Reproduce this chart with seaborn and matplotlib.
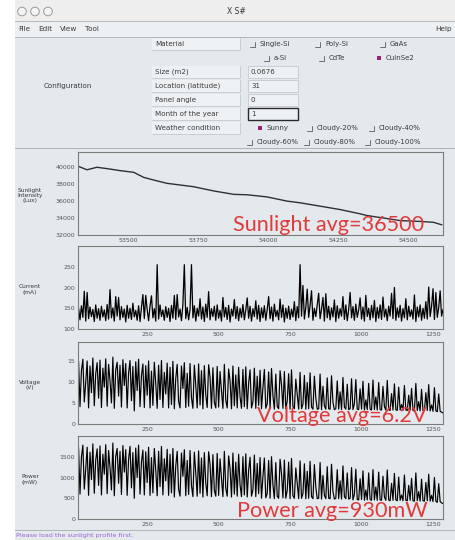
import numpy as np
import pandas as pd
import matplotlib
matplotlib.use("Agg")
import matplotlib.pyplot as plt
import seaborn as sns
from matplotlib.patches import Rectangle, Circle
from matplotlib.lines import Line2D

# ---------------------------------------------------------------- data
sun_x = [53321, 53351, 53387, 53430, 53470, 53518, 53554, 53600, 53637,
         53685, 53732, 53804, 53875, 53923, 53994, 54066, 54113, 54185,
         54256, 54327, 54351, 54411, 54470, 54542, 54589, 54619]
sun_y = [40100, 39700, 40000, 39800, 39600, 39400, 38800, 38400, 38100,
         37900, 37700, 37200, 36800, 36750, 36500, 36000, 35800, 35400,
         35000, 34500, 34300, 34000, 33700, 33600, 33500, 33200]

# sample index of the logged measurements
sample_t = list(range(10, 1290, 5))

current_ma = [
    150, 122, 156, 128, 191, 119, 188, 125, 153, 130, 147, 118, 158, 126, 149, 121,
    155, 129, 146, 120, 159, 124, 195, 127, 151, 119, 178, 131, 176, 122, 154, 128,
    148, 117, 157, 126, 150, 123, 162, 129, 145, 121, 156, 118, 152, 183, 125, 181,
    147, 120, 155, 180, 127, 149, 119, 255, 124, 158, 130, 146, 121, 154, 128, 150,
    118, 157, 126, 181, 123, 183, 129, 148, 120, 159, 255, 125, 152, 122, 147, 255,
    127, 156, 119, 150, 131, 173, 124, 153, 118, 160, 128, 190, 122, 149, 130, 155,
    121, 158, 126, 145, 119, 176, 129, 152, 123, 157, 117, 148, 131, 171, 125, 154,
    120, 150, 128, 159, 122, 146, 175, 126, 155, 119, 149, 130, 168, 124, 157, 118,
    151, 127, 156, 121, 147, 178, 125, 153, 119, 160, 130, 145, 122, 172, 128, 158,
    117, 150, 126, 155, 123, 148, 129, 166, 120, 154, 127, 255, 131, 205, 124, 152,
    196, 128, 157, 192, 121, 150, 130, 159, 186, 125, 148, 176, 119, 185, 127, 155,
    122, 151, 129, 170, 118, 156, 126, 149, 131, 178, 123, 158, 120, 147, 188, 127,
    154, 121, 160, 128, 146, 175, 124, 153, 119, 181, 130, 150, 122, 157, 127, 169,
    118, 152, 126, 158, 123, 177, 129, 148, 120, 155, 131, 186, 125, 200, 121, 151,
    128, 157, 119, 149, 127, 173, 122, 155, 130, 146, 124, 182, 118, 153, 129, 158,
    121, 150, 126, 166, 124, 201, 130, 155, 197, 123, 188, 128, 152, 192, 131, 147,
]

voltage_v = [
    14.8, 4.1, 12.6, 15.3, 5.2, 9.8, 14.9, 3.8, 13.7, 7.4, 15.6, 4.3, 11.9, 14.5, 6.1, 15.1,
    3.9, 13.2, 8.7, 15.4, 4.2, 14.1, 10.3, 5.0, 15.8, 3.7, 12.8, 14.6, 6.6, 13.9, 4.0, 15.2,
    9.1, 14.3, 3.8, 12.1, 15.0, 5.5, 13.6, 3.1, 14.7, 7.9, 15.3, 4.1, 11.4, 14.2, 3.9, 13.8,
    6.8, 14.9, 3.8, 12.5, 4.4, 14.6, 9.6, 3.7, 13.9, 5.8, 15.0, 3.9, 12.2, 7.1, 14.4, 3.8,
    13.4, 4.6, 14.8, 3.6, 10.8, 14.1, 5.3, 3.8, 13.7, 8.4, 14.5, 3.9, 12.0, 4.2, 14.3, 6.2,
    3.7, 13.9, 9.2, 3.8, 14.2, 4.5, 12.6, 3.6, 13.8, 6.9, 3.9, 14.0, 11.1, 3.7, 13.3, 5.1,
    3.8, 13.6, 4.0, 12.4, 7.8, 3.7, 14.1, 5.6, 3.8, 13.0, 10.2, 3.6, 13.7, 4.3, 11.6, 3.8,
    13.4, 6.4, 3.7, 12.9, 4.1, 13.5, 3.6, 9.7, 12.8, 3.8, 5.2, 13.2, 3.7, 11.3, 4.4, 12.7,
    3.6, 8.6, 12.9, 3.7, 4.8, 12.3, 3.6, 13.1, 6.7, 3.5, 11.8, 4.1, 3.6, 12.6, 9.3, 3.7,
    12.4, 3.6, 5.4, 11.9, 3.5, 12.8, 4.2, 3.6, 10.6, 7.1, 3.5, 12.2, 3.6, 4.7, 11.5, 3.5,
    9.8, 3.6, 12.1, 4.0, 3.5, 11.3, 6.2, 3.5, 3.6, 11.8, 3.4, 8.9, 4.3, 3.5, 10.9, 3.6,
    3.5, 11.4, 5.1, 3.4, 3.6, 10.2, 3.5, 7.6, 3.4, 11.0, 4.0, 3.5, 9.4, 3.4, 3.6, 10.7,
    3.4, 4.8, 10.5, 3.5, 3.4, 8.3, 3.5, 10.1, 3.3, 5.7, 3.4, 9.6, 3.5, 3.3, 10.4, 3.4,
    6.4, 3.3, 9.8, 3.4, 3.3, 8.9, 4.1, 3.3, 10.3, 3.4, 3.2, 7.2, 3.3, 9.5, 3.4, 3.2,
    8.7, 3.3, 4.6, 3.2, 9.1, 3.3, 3.2, 6.8, 3.3, 8.4, 3.2, 3.1, 9.6, 3.2, 5.3, 3.1,
    8.2, 3.2, 3.1, 7.4, 3.2, 9.3, 3.1, 4.5, 3.0, 8.6, 3.1, 2.9, 7.1, 3.0, 2.8, 2.6,
]

power_mw = [
    1720, 600, 1490, 1780, 720, 1200, 1730, 570, 1610, 950, 1810, 620, 1420, 1690, 810, 1760,
    580, 1560, 1080, 1790, 610, 1650, 1250, 700, 1830, 560, 1510, 1700, 860, 1630, 590, 1770,
    1130, 1670, 570, 1440, 1750, 750, 1600, 500, 1710, 1000, 1780, 600, 1370, 1660, 580, 1620,
    880, 1730, 570, 1480, 630, 1700, 1180, 560, 1630, 780, 1750, 580, 1450, 920, 1680, 570,
    1560, 630, 1700, 530, 1280, 1630, 710, 550, 1590, 1030, 1670, 560, 1410, 590, 1650, 800,
    540, 1610, 1120, 550, 1640, 620, 1470, 530, 1600, 870, 560, 1620, 1320, 540, 1550, 690,
    550, 1580, 570, 1450, 970, 540, 1630, 740, 550, 1520, 1220, 530, 1590, 600, 1370, 550,
    1560, 820, 540, 1500, 580, 1570, 530, 1170, 1490, 550, 700, 1540, 540, 1340, 610, 1480,
    500, 1020, 1470, 510, 620, 1410, 500, 1500, 820, 490, 1360, 550, 500, 1440, 1100, 510,
    1420, 500, 690, 1370, 490, 1460, 560, 500, 1230, 870, 490, 1400, 500, 610, 1330, 490,
    1150, 500, 1390, 540, 490, 1310, 770, 490, 500, 1360, 480, 1050, 570, 490, 1260, 500,
    490, 1320, 660, 480, 500, 1190, 490, 920, 480, 1280, 540, 490, 1110, 480, 500, 1240,
    460, 600, 1200, 470, 460, 970, 470, 1160, 450, 700, 460, 1110, 470, 450, 1190, 460,
    770, 450, 1130, 460, 450, 1030, 530, 450, 1180, 460, 440, 860, 450, 1100, 460, 440,
    1010, 450, 580, 440, 1060, 450, 440, 810, 450, 980, 440, 430, 1110, 440, 660, 430,
    960, 440, 430, 880, 440, 1080, 430, 570, 420, 1000, 430, 400, 850, 420, 390, 370,
]

sun_ticks = [53500, 53750, 54000, 54250, 54500]
t_ticks = [250, 500, 750, 1000, 1250]
sun_yticks = [32000, 34000, 36000, 38000, 40000]
cur_yticks = [100, 150, 200, 250]
volt_yticks = [0, 5, 10, 15]
pow_yticks = [0, 500, 1000, 1500]

materials = [("Single-Si", 253, 44, False), ("Poly-Si", 318, 44, False),
             ("GaAs", 383, 44, False), ("a-Si", 267, 58, False),
             ("CdTe", 322, 58, False), ("CuInSe2", 379, 58, True)]
weather = [("Sunny", 260, 128, True), ("Cloudy-20%", 310, 128, False),
           ("Cloudy-40%", 372, 128, False), ("Cloudy-60%", 250, 142, False),
           ("Cloudy-80%", 307, 142, False), ("Cloudy-100%", 368, 142, False)]
fields = [("Size (m2)", "0.0676", 72), ("Location (latitude)", "31", 86),
          ("Panel angle", "0", 100), ("Month of the year", "1", 114)]

# ---------------------------------------------------------------- style
W, H = 456, 540
BG = "#e4e9ed"
TXT = "#3a3a3a"
RED = "#e23a3a"
PURPLE = "#9c1f78"

sns.set_theme(style="white")
plt.rcParams["font.family"] = ["DejaVu Sans"]

fig = plt.figure(figsize=(W / 100, H / 100), dpi=100)
fig.patch.set_facecolor("white")

# window chrome drawn in pixel coordinates
ui = fig.add_axes([0, 0, 1, 1])
ui.set_xlim(0, W)
ui.set_ylim(H, 0)
ui.axis("off")
ui.set_zorder(-1)

ui.add_patch(Rectangle((15, 0), W - 15, H, fc=BG, ec="none"))
ui.add_patch(Rectangle((15, 0), W - 15, 21, fc="#eeeeee", ec="none"))
ui.add_line(Line2D([15, W], [21, 21], color="#b8b8b8", lw=0.7))
for cx in (22, 35, 48):
    ui.add_patch(Circle((cx, 11.5), 4.3, fc="#f4f4f4", ec="#9a9a9a", lw=0.7))
ui.text(236, 12, "X S#", ha="center", va="center", fontsize=5.5, color=TXT)

ui.add_patch(Rectangle((15, 21), W - 15, 16, fc="#edf0f2", ec="none"))
ui.add_line(Line2D([15, W], [37, 37], color="#b0b4b8", lw=0.7))
for label, x in (("File", 18), ("Edit", 38), ("View", 60), ("Tool", 85)):
    ui.text(x, 29, label, ha="left", va="center", fontsize=5.2, color=TXT)
ui.text(452, 29, "Help", ha="right", va="center", fontsize=5.2, color=TXT)

# configuration panel
ui.text(44, 86, "Configuration", ha="left", va="center", fontsize=5.1, color=TXT)
for label, y in [("Material", 44)] + [(f[0], f[2]) for f in fields] + [("Weather condition", 128)]:
    ui.add_patch(Rectangle((152, y - 6), 88, 12, fc="#eef1f4", ec="none"))
    ui.add_line(Line2D([152, 240, 240], [y + 6, y + 6, y - 6], color="#c4c9ce", lw=0.6))
    ui.text(155, y, label, ha="left", va="center", fontsize=5.1, color=TXT)
for label, value, y in fields:
    ui.add_patch(Rectangle((248, y - 6), 50, 12, fc="#eef1f4", ec="#c4c9ce", lw=0.6))
    ui.text(251, y, value, ha="left", va="center", fontsize=5.1, color=TXT)
ui.add_patch(Rectangle((248, 108), 50, 12, fc="none", ec="#2a2a2a", lw=1.0))


def checkbox(label, x, y, checked):
    if checked:
        ui.add_patch(Rectangle((x - 2.3, y - 2.3), 4.6, 4.6, fc=PURPLE, ec="none"))
    else:
        ui.add_line(Line2D([x - 2.5, x + 2.5, x + 2.5], [y + 2.5, y + 2.5, y - 2.5],
                           color="#6f6f6f", lw=0.7))
    ui.text(x + 7, y, label, ha="left", va="center", fontsize=5.0, color=TXT)


for item in materials + weather:
    checkbox(*item)

ui.add_line(Line2D([15, W], [148, 148], color="#b0b4b8", lw=0.7))
ui.add_line(Line2D([15, W], [530, 530], color="#b0b4b8", lw=0.7))
ui.text(16, 536, "Please load the sunlight profile first.", ha="left", va="center",
        fontsize=4.6, color="#9b62d8")

# ---------------------------------------------------------------- plots
def make_axes(top, bottom):
    ax = fig.add_axes([78 / W, 1 - bottom / H, 365 / W, (bottom - top) / H])
    ax.set_facecolor(BG)
    for s in ax.spines.values():
        s.set_color("#7c7c7c")
        s.set_linewidth(0.8)
    ax.tick_params(direction="in", length=2, width=0.6, colors="#555555",
                   labelsize=4.5, pad=2)
    return ax


panels = [
    (152, 235, pd.DataFrame({"t": sun_x, "v": sun_y}), (53319, 54623), (32000, 41800),
     sun_ticks, sun_yticks, "Sunlight\nIntensity\n(Lux)", 1.0, "#303030"),
    (246, 329, pd.DataFrame({"t": sample_t, "v": current_ma}), (8, 1285), (100, 300),
     t_ticks, cur_yticks, "Current\n(mA)", 0.9, "black"),
    (341.5, 424, pd.DataFrame({"t": sample_t, "v": voltage_v}), (8, 1285), (0, 19.5),
     t_ticks, volt_yticks, "Voltage\n(V)", 0.85, "black"),
    (436, 519, pd.DataFrame({"t": sample_t, "v": power_mw}), (8, 1285), (0, 2000),
     t_ticks, pow_yticks, "Power\n(mW)", 0.85, "black"),
]

for top, bottom, df, xl, yl, xt, yt, label, lw, col in panels:
    ax = make_axes(top, bottom)
    sns.lineplot(data=df, x="t", y="v", ax=ax, color=col, lw=lw, estimator=None)
    ax.set_xlim(*xl)
    ax.set_ylim(*yl)
    ax.set_xticks(xt)
    ax.set_yticks(yt)
    ax.set_xlabel("")
    ax.set_ylabel("")
    ui.text(30, (top + bottom) / 2 + 2, label, ha="center", va="center",
            fontsize=4.2, color=TXT, linespacing=1.1)

# average annotations
for text, x, y in (("Sunlight avg=36500", 233, 231), ("Voltage avg=6.2V", 257, 422),
                   ("Power avg=930mW", 237, 517)):
    fig.text(x / W, 1 - y / H, text, ha="left", va="baseline", fontsize=15.6,
             color=RED, family=["Lato", "DejaVu Sans"], zorder=10)

fig.savefig("out.png", dpi=100, facecolor=fig.get_facecolor())
